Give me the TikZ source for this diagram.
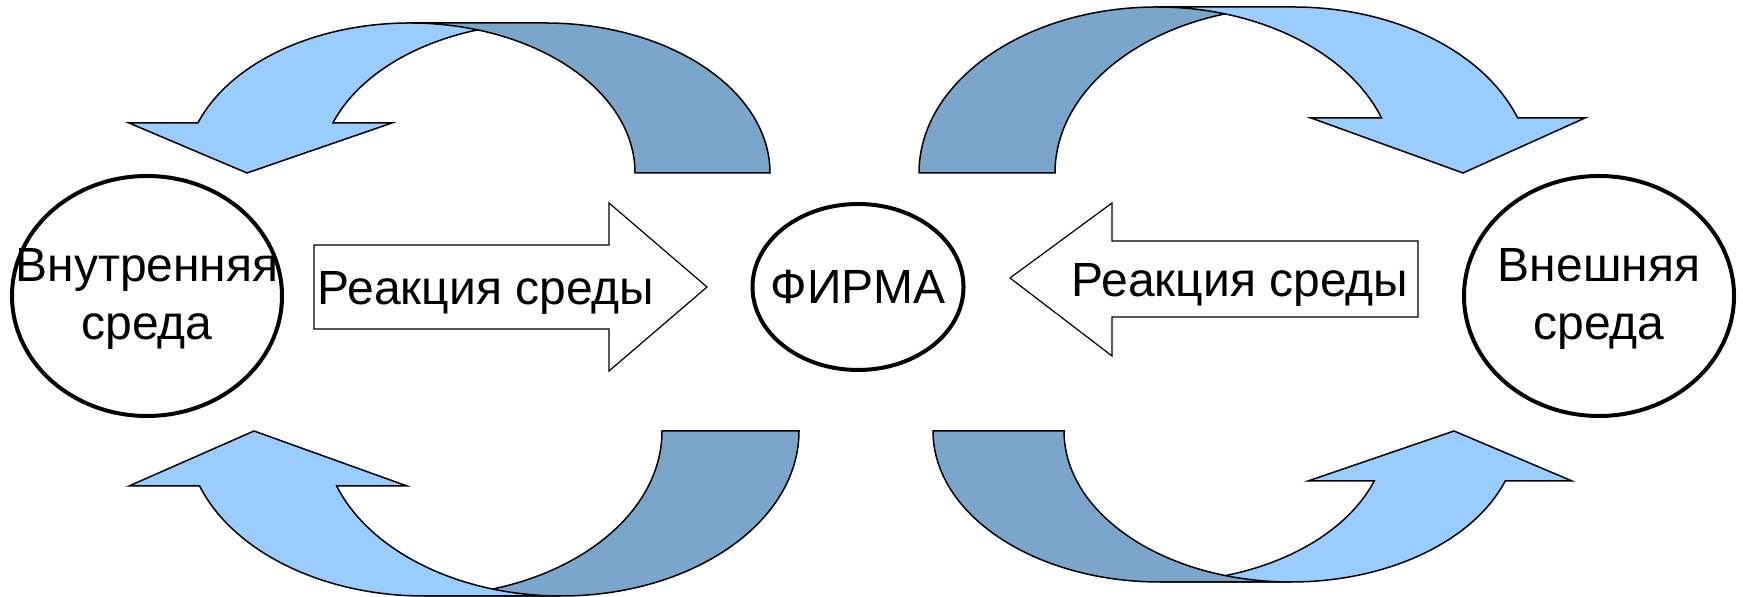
\documentclass[tikz,border=0pt]{standalone}
\usepackage{fontspec}
\setmainfont{Liberation Sans}
\usepackage{xcolor}
\usetikzlibrary{shapes.geometric}
\definecolor{bandlight}{RGB}{153,204,255}
\definecolor{banddark}{RGB}{123,166,204}

\begin{document}
\begin{tikzpicture}[
  x=0.5pt, y=0.5pt,
  env/.style={draw, ellipse, line width=2pt, inner sep=0pt},
  txt/.style={inner sep=0pt, align=center, font=\fontsize{24}{29}\selectfont},
  light/.style={draw, fill=bandlight, line width=0.75pt},
  dark/.style={draw, fill=banddark, line width=0.75pt},
  blockarr/.style={draw, fill=white, line width=0.6pt}
]
\useasboundingbox (0,0) rectangle (1743,597);

\node[env, minimum width=135pt, minimum height=120pt] (inner) at (147,301) {};
\node[txt] (innertxt) at (147,298) {Внутренняя\\среда};

\node[env, minimum width=105.5pt, minimum height=83pt] (firm) at (858,310) {};
\node[txt] (firmtxt) at (firm) {ФИРМА};

\node[env, minimum width=135pt, minimum height=120pt] (outer) at (1599,301) {};
\node[txt] (outertxt) at (1599,298) {Внешняя\\среда};

\draw[blockarr] (314,352) -- (609,352) -- (609,394) -- (707,310) -- (609,226) -- (609,268) -- (314,268) -- cycle;
\node[txt, anchor=base] (reactl) at (486,292) {Реакция среды};

\draw[blockarr] (1010,319) -- (1112,394) -- (1112,356) -- (1418,356) -- (1418,280) -- (1112,280) -- (1112,241) -- cycle;
\node[txt, anchor=base] (reactr) at (1240,300) {Реакция среды};

% top left
\draw[light] (129,474) -- (197.9,474) arc[start angle=160.53, end angle=90, x radius=225, y radius=150]
  -- (545,574) arc[start angle=90, end angle=160.53, x radius=225, y radius=150] -- (392,474) -- (247,424) -- cycle;
\draw[dark] (635,424) -- (770,424) arc[start angle=0, end angle=90, x radius=225, y radius=150]
  -- (410,574) arc[start angle=90, end angle=0, x radius=225, y radius=150] -- cycle;

% top right
\draw[dark] (1055,424) -- (919,424) arc[start angle=180, end angle=90, x radius=238, y radius=166]
  -- (1293,590) arc[start angle=90, end angle=180, x radius=238, y radius=166] -- cycle;
\draw[light] (1585,479) -- (1517.6,479) arc[start angle=19.35, end angle=90, x radius=238, y radius=166]
  -- (1157,590) arc[start angle=90, end angle=19.35, x radius=238, y radius=166] -- (1311,479) -- (1463,424) -- cycle;

% bottom left
\draw[dark] (662,166) -- (799,166) arc[start angle=0, end angle=-90, x radius=238, y radius=165]
  -- (424,1) arc[start angle=270, end angle=360, x radius=238, y radius=165] -- cycle;
\draw[light] (129,111) -- (199.6,111) arc[start angle=199.47, end angle=270, x radius=238, y radius=165]
  -- (561,1) arc[start angle=270, end angle=199.47, x radius=238, y radius=165] -- (407,111) -- (254,166) -- cycle;

% bottom right
\draw[light] (1572,116) -- (1505.2,116) arc[start angle=-19.34, end angle=-90, x radius=227, y radius=151]
  -- (1160,15) arc[start angle=-90, end angle=-19.34, x radius=227, y radius=151] -- (1308,116) -- (1454,166) -- cycle;
\draw[dark] (1064,166) -- (933,166) arc[start angle=180, end angle=270, x radius=227, y radius=151]
  -- (1291,15) arc[start angle=270, end angle=180, x radius=227, y radius=151] -- cycle;
\end{tikzpicture}
\end{document}
